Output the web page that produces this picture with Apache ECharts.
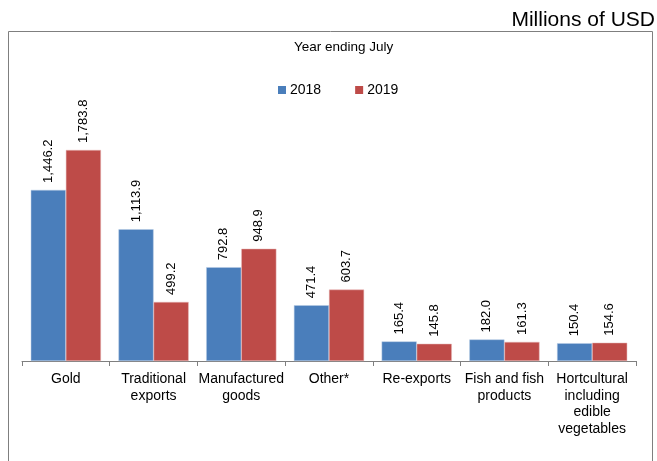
<!DOCTYPE html>
<html>
<head>
<meta charset="utf-8">
<script src="https://cdn.jsdelivr.net/npm/echarts@6/dist/echarts.min.js"></script>
<style>
  html, body { margin: 0; padding: 0; background: #fff; }
  #chart { width: 657px; height: 461px; }
</style>
</head>
<body>
<div id="chart"></div>
<script>
// Export categories and values (millions of USD, year ending July)
const categories = [
  'Gold',
  'Traditional\nexports',
  'Manufactured\ngoods',
  'Other*',
  'Re-exports',
  'Fish and fish\nproducts',
  'Hortcultural\nincluding\nedible\nvegetables'
];
const values2018 = [1446.2, 1113.9, 792.8, 471.4, 165.4, 182.0, 150.4];
const values2019 = [1783.8, 499.2, 948.9, 603.7, 145.8, 161.3, 154.6];
const seriesNames = ['2018', '2019'];

const FONT = '"Liberation Sans", Arial, sans-serif';
const fmt = v => Number(v).toLocaleString('en-US', { minimumFractionDigits: 1, maximumFractionDigits: 1 });

const chart = echarts.init(document.getElementById('chart'), null, { renderer: 'canvas' });

const barLabel = {
  show: true,
  position: 'top',
  rotate: 90,
  align: 'left',
  verticalAlign: 'middle',
  distance: 7,
  fontFamily: FONT,
  fontSize: 13,
  color: '#000',
  formatter: p => fmt(p.value)
};

chart.setOption({
  animation: false,
  textStyle: { fontFamily: FONT },
  graphic: [
    {
      type: 'rect',
      shape: { x: 8.5, y: 31.5, width: 644, height: 440 },
      style: { fill: 'none', stroke: '#7f7f7f', lineWidth: 1 },
      silent: true
    },
    {
      type: 'text',
      right: 2,
      top: 10,
      style: { text: 'Millions of USD', fontFamily: FONT, fontSize: 21, fill: '#000' }
    },
    {
      type: 'text',
      left: 294,
      top: 40,
      style: { text: 'Year ending July', fontFamily: FONT, fontSize: 13.5, fill: '#000' }
    }
  ],
  legend: {
    top: 78,
    left: 273,
    itemWidth: 8,
    itemHeight: 8,
    itemGap: 34,
    icon: 'rect',
    itemStyle: { borderWidth: 0 },
    textStyle: { fontFamily: FONT, fontSize: 14, color: '#000', padding: [0, 0, 0, -1] },
    data: seriesNames
  },
  grid: { left: 22, right: 21, top: 124.4, bottom: 100, containLabel: false },
  xAxis: {
    type: 'category',
    data: categories,
    axisLine: { lineStyle: { color: '#7f7f7f', width: 1 } },
    axisTick: { show: true, length: 5, lineStyle: { color: '#7f7f7f' } },
    axisLabel: {
      interval: 0,
      margin: 10,
      fontFamily: FONT,
      fontSize: 14,
      lineHeight: 16.5,
      color: '#000',
      align: 'center'
    }
  },
  yAxis: {
    type: 'value',
    min: 0,
    max: 2000,
    show: false,
    splitLine: { show: false }
  },
  series: [
    {
      name: seriesNames[0],
      type: 'bar',
      data: values2018,
      barGap: '0%',
      barCategoryGap: '20%',
      itemStyle: { color: '#4a7ebb', borderColor: '#b9cde5', borderWidth: 0.5 },
      label: barLabel
    },
    {
      name: seriesNames[1],
      type: 'bar',
      data: values2019,
      barGap: '0%',
      barCategoryGap: '20%',
      itemStyle: { color: '#be4b48', borderColor: '#e6b9b8', borderWidth: 0.5 },
      label: barLabel
    }
  ]
});
</script>
</body>
</html>
